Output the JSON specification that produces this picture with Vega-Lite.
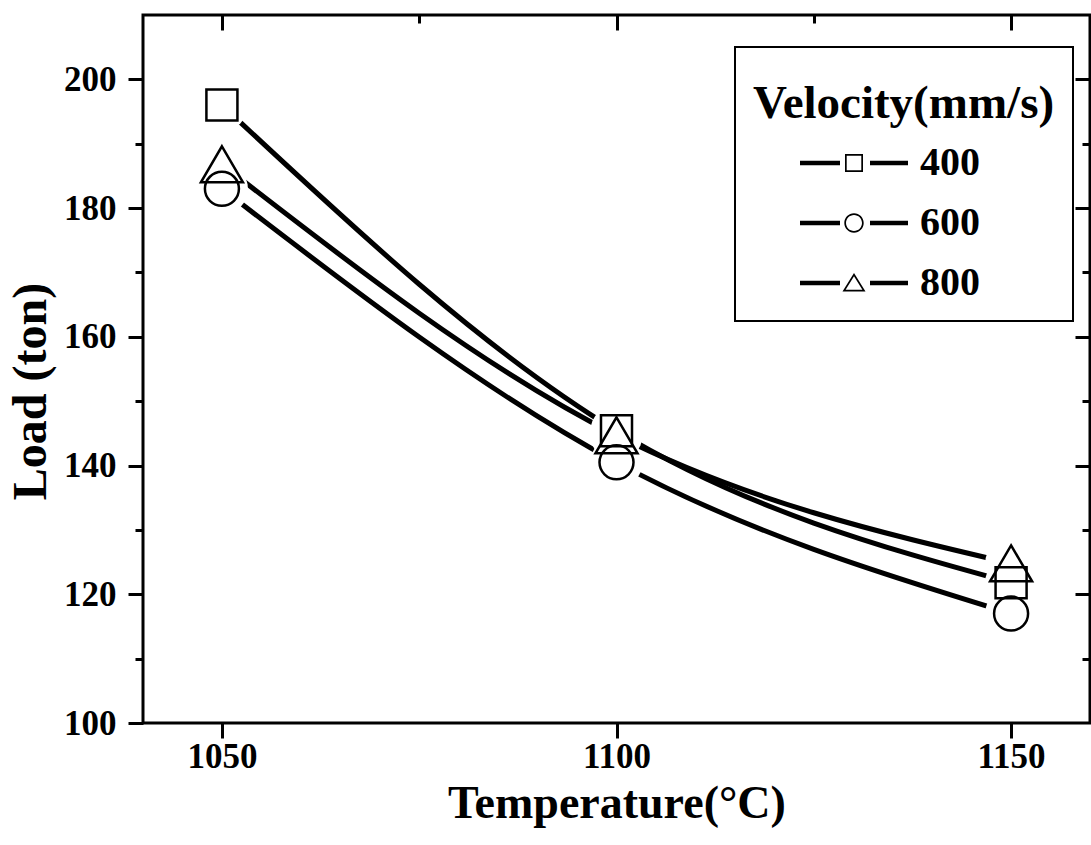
{
  "$schema": "https://vega.github.io/schema/vega-lite/v6.json",
  "width": 947,
  "height": 708,
  "autosize": {"type": "none"},
  "padding": {"left": 143, "top": 15, "right": 1, "bottom": 122},
  "background": "white",
  "config": {
    "font": "Liberation Serif",
    "view": {"stroke": "black", "strokeWidth": 3},
    "axis": {
      "domain": false,
      "grid": false,
      "tickColor": "black",
      "tickWidth": 3,
      "labelFont": "Liberation Serif",
      "labelFontWeight": "bold",
      "labelFontSize": 35,
      "labelColor": "black",
      "labelFlush": false,
      "labelOverlap": false,
      "titleFont": "Liberation Serif",
      "titleFontWeight": "bold",
      "titleColor": "black"
    },
    "legend": {"strokeWidth": 2}
  },
  "data": {
    "values": [
      {"temp": 1050, "load": 196.0, "series": "400"},
      {"temp": 1100, "load": 145.4, "series": "400"},
      {"temp": 1150, "load": 121.8, "series": "400"},
      {"temp": 1050, "load": 183.0, "series": "600"},
      {"temp": 1100, "load": 140.5, "series": "600"},
      {"temp": 1150, "load": 117.0, "series": "600"},
      {"temp": 1050, "load": 186.8, "series": "800"},
      {"temp": 1100, "load": 144.7, "series": "800"},
      {"temp": 1150, "load": 124.8, "series": "800"}
    ]
  },
  "layer": [
    {
      "mark": {"type": "line", "interpolate": "natural", "strokeWidth": 5, "color": "black", "strokeCap": "butt"},
      "encoding": {
        "x": {
          "field": "temp", "type": "quantitative",
          "scale": {"domain": [1040, 1160], "nice": false, "zero": false},
          "axis": {"orient": "bottom", "values": [1050, 1100, 1150], "format": "d", "tickSize": 15, "labelPadding": 1,
                   "title": "Temperature(°C)", "titleFontSize": 46, "titleBaseline": "alphabetic", "titleY": 94}
        },
        "y": {
          "field": "load", "type": "quantitative",
          "scale": {"domain": [100, 210], "nice": false, "zero": false},
          "axis": {"orient": "left", "values": [100, 120, 140, 160, 180, 200], "format": "d", "tickSize": 15, "labelPadding": 12,
                   "title": "Load (ton)", "titleFontSize": 48, "titleAngle": -90, "titleBaseline": "alphabetic", "titleAlign": "center",
                   "titleX": -98, "titleY": 376}
        },
        "detail": {"field": "series", "type": "nominal"}
      }
    },
    {
      "mark": {"type": "point", "filled": true, "color": "white", "size": 2704, "opacity": 1, "strokeWidth": 0},
      "encoding": {
        "x": {"field": "temp", "type": "quantitative", "scale": {"domain": [1040, 1160], "nice": false, "zero": false},
              "axis": {"orient": "top", "values": [1050, 1100, 1150], "tickSize": -15, "labels": false, "title": null}},
        "y": {"field": "load", "type": "quantitative", "scale": {"domain": [100, 210], "nice": false, "zero": false},
              "axis": {"orient": "right", "values": [120, 140, 160, 180, 200], "tickSize": -15, "labels": false, "title": null}}
      }
    },
    {
      "mark": {"type": "point", "filled": false, "color": "black", "strokeWidth": 2.5, "size": 1936, "opacity": 1},
      "encoding": {
        "x": {"field": "temp", "type": "quantitative", "scale": {"domain": [1040, 1160], "nice": false, "zero": false},
              "axis": {"orient": "top", "values": [1075, 1125], "tickSize": -8, "labels": false, "title": null}},
        "y": {"field": "load", "type": "quantitative", "scale": {"domain": [100, 210], "nice": false, "zero": false},
              "axis": {"orient": "left", "values": [110, 130, 150, 170, 190], "tickSize": 8, "labels": false, "title": null}},
        "shape": {
          "field": "series", "type": "nominal",
          "scale": {"domain": ["400", "600", "800"],
                    "range": ["M-0.705,-0.705L0.705,-0.705L0.705,0.705L-0.705,0.705Z",
                              "M0.773,0A0.773,0.773,0,1,1,-0.773,0A0.773,0.773,0,1,1,0.773,0Z",
                              "M0,-0.818L0.955,0.818L-0.955,0.818Z"]},
          "legend": null
        }
      }
    },
    {
      "mark": {"type": "point", "filled": true, "color": "black", "opacity": 0},
      "encoding": {
        "x": {"field": "temp", "type": "quantitative", "scale": {"domain": [1040, 1160], "nice": false, "zero": false}, "axis": null},
        "y": {"field": "load", "type": "quantitative", "scale": {"domain": [100, 210], "nice": false, "zero": false},
              "axis": {"orient": "right", "values": [110, 130, 150, 170, 190], "tickSize": -8, "labels": false, "title": null}},
        "shape": {
          "field": "series", "type": "nominal",
          "scale": {"domain": ["400", "600", "800"],
                    "range": [
                      "M1.35,-0.115L3.35,-0.115L3.35,0.115L1.35,0.115ZM3.6,-0.45L4.5,-0.45L4.5,0.45L3.6,0.45ZM3.685,-0.365L3.685,0.365L4.415,0.365L4.415,-0.365ZM4.85,-0.115L6.75,-0.115L6.75,0.115L4.85,0.115Z",
                      "M1.35,-0.115L3.35,-0.115L3.35,0.115L1.35,0.115ZM4.535,0A0.485,0.485,0,1,1,3.565,0A0.485,0.485,0,1,1,4.535,0ZM4.45,0A0.4,0.4,0,1,0,3.65,0A0.4,0.4,0,1,0,4.45,0ZM4.85,-0.115L6.75,-0.115L6.75,0.115L4.85,0.115Z",
                      "M1.35,-0.115L3.35,-0.115L3.35,0.115L1.35,0.115ZM4.05,-0.504L4.625,0.426L3.475,0.426ZM4.05,-0.341L3.63,0.341L4.47,0.341ZM4.85,-0.115L6.75,-0.115L6.75,0.115L4.85,0.115Z"
                    ]},
          "legend": {
            "title": "Velocity(mm/s)",
            "orient": "none",
            "legendX": 592,
            "legendY": 32,
            "strokeColor": "black",
            "padding": 18,
            "titleFont": "Liberation Serif",
            "titleFontSize": 47,
            "titleFontWeight": "bold",
            "titleColor": "black",
            "titleBaseline": "line-top",
            "titleLineHeight": 78,
            "titlePadding": 31,
            "titleLimit": 1000,
            "labelFont": "Liberation Serif",
            "labelFontSize": 40,
            "labelFontWeight": "bold",
            "labelColor": "black",
            "labelLimit": 1000,
            "labelOffset": 127,
            "symbolSize": 1600,
            "symbolStrokeWidth": 0,
            "symbolFillColor": "black",
            "rowPadding": 20,
            "encode": {"symbols": {"update": {"fill": {"value": "black"}, "opacity": {"value": 1}, "strokeWidth": {"value": 0}}}}
          }
        }
      }
    }
  ],
  "resolve": {
    "scale": {"shape": "independent"},
    "axis": {"x": "independent", "y": "independent"},
    "legend": {"shape": "independent"}
  }
}
